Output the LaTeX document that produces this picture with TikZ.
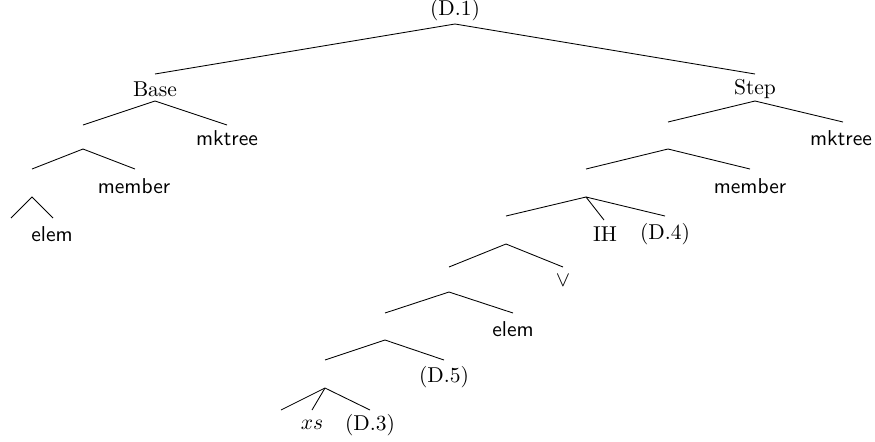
\documentclass[tikz,border=0pt]{standalone}
\begin{document}
\begin{tikzpicture}[x=0.465pt,y=-0.465pt,
  lbl/.style={inner sep=0pt, anchor=center},
  edge/.style={line width=0.4pt}]
\useasboundingbox (0,0) rectangle (875,441);
% labels
\node[lbl] (root) at (455,10) {(D.1)};
\node[lbl] (base) at (155,89) {Base};
\node[lbl] (step) at (755,89) {Step};
\node[lbl] (mk1) at (227,138) {\textsf{mktree}};
\node[lbl] (mem1) at (134,186) {\textsf{member}};
\node[lbl] (elem1) at (52,234) {\textsf{elem}};
\node[lbl] (mk2) at (841,138) {\textsf{mktree}};
\node[lbl] (mem2) at (750,186) {\textsf{member}};
\node[lbl] (ih) at (605,234) {IH};
\node[lbl] (d4) at (665,234) {(D.4)};
\node[lbl] (or) at (563,281) {$\vee$};
\node[lbl] (elem2) at (513,329) {\textsf{elem}};
\node[lbl] (d5) at (444,377) {(D.5)};
\node[lbl] (xs) at (312,425) {$xs$};
\node[lbl] (d3) at (370,425) {(D.3)};
% connection points
\coordinate (root-b) at (455,24);
\coordinate (base-t) at (155,74);
\coordinate (base-b) at (155,101);
\coordinate (step-t) at (755,74);
\coordinate (step-b) at (755,101);
\coordinate (b1-t) at (83,125);
\coordinate (b1-b) at (83,149);
\coordinate (mk1-t) at (227,125);
\coordinate (b2-t) at (32,169);
\coordinate (b2-b) at (32,197);
\coordinate (mem1-t) at (135,169);
\coordinate (b3-t) at (11,218);
\coordinate (elem1-t) at (53,218);
\coordinate (s1-t) at (668,122);
\coordinate (s1-b) at (668,149);
\coordinate (mk2-t) at (843,122);
\coordinate (s2-t) at (586,169);
\coordinate (s2-b) at (586,197);
\coordinate (mem2-t) at (750,169);
\coordinate (s3-t) at (506,216);
\coordinate (s3-b) at (506,244);
\coordinate (ih-t) at (604,220);
\coordinate (d4-t) at (665,216);
\coordinate (s4-t) at (449,267);
\coordinate (s4-b) at (449,292);
\coordinate (or-t) at (563,267);
\coordinate (s5-t) at (385,313);
\coordinate (s5-b) at (385,340);
\coordinate (elem2-t) at (513,313);
\coordinate (s6-t) at (325,360);
\coordinate (s6-b) at (325,388);
\coordinate (d5-t) at (444,360);
\coordinate (s7-t) at (281,410);
\coordinate (xs-t) at (312,410);
\coordinate (d3-t) at (370,410);
% edges
\draw[edge] (base-t) -- (root-b) -- (step-t);
\draw[edge] (b1-t) -- (base-b) -- (mk1-t);
\draw[edge] (b2-t) -- (b1-b) -- (mem1-t);
\draw[edge] (b3-t) -- (b2-b) -- (elem1-t);
\draw[edge] (s1-t) -- (step-b) -- (mk2-t);
\draw[edge] (s2-t) -- (s1-b) -- (mem2-t);
\draw[edge] (s3-t) -- (s2-b) -- (d4-t);
\draw[edge] (s2-b) -- (ih-t);
\draw[edge] (s4-t) -- (s3-b) -- (or-t);
\draw[edge] (s5-t) -- (s4-b) -- (elem2-t);
\draw[edge] (s6-t) -- (s5-b) -- (d5-t);
\draw[edge] (s7-t) -- (s6-b) -- (d3-t);
\draw[edge] (s6-b) -- (xs-t);
\end{tikzpicture}
\end{document}
